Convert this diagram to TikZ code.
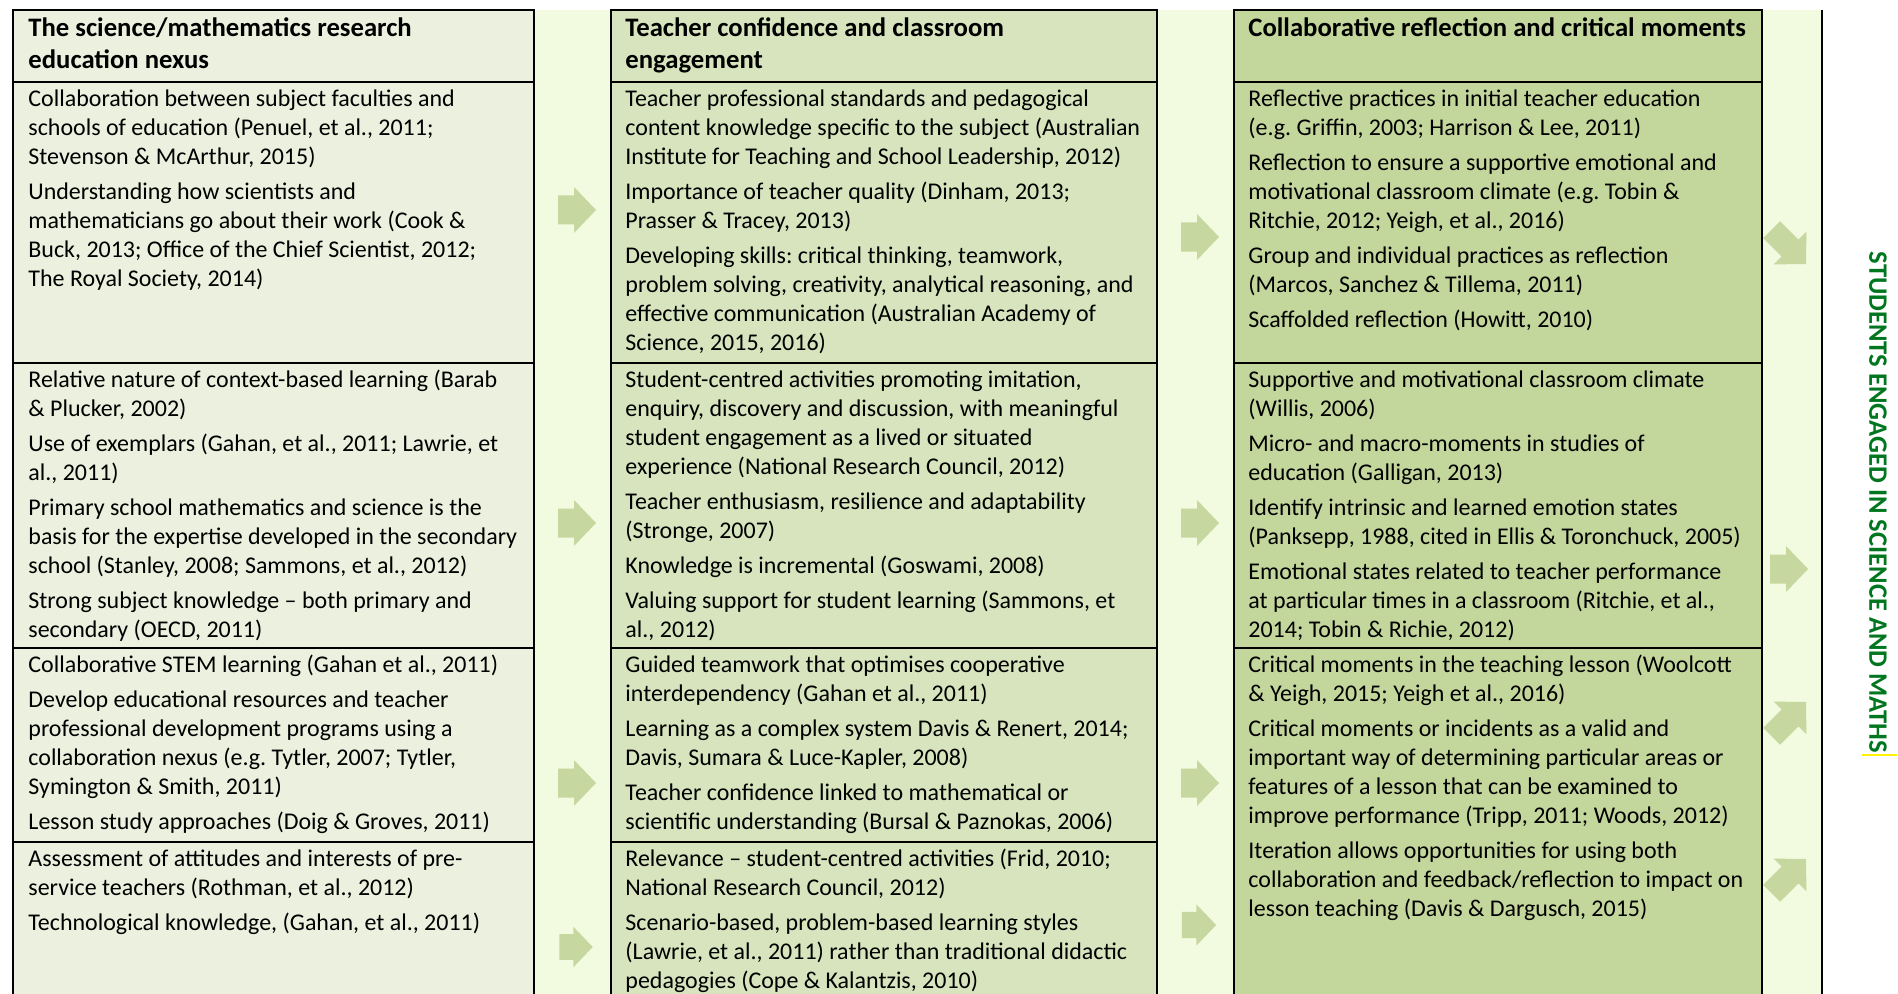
\documentclass[tikz,border=0pt]{standalone}
\usepackage{fontspec}
\setmainfont{Carlito}
\definecolor{nexusfill}{HTML}{EBF1DE}
\definecolor{teachfill}{HTML}{D7E4BD}
\definecolor{reflectfill}{HTML}{C3D69B}
\definecolor{stripfill}{HTML}{F2FADF}
\definecolor{arrowfill}{HTML}{C6D7A0}
\definecolor{engagegreen}{HTML}{00761E}
% block arrow pointing right
\newcommand*{\flowarrow}[2][1]{%
  \fill[arrowfill,shift={#2},scale=#1]
    (-19,-14.5) -- (-3,-14.5) -- (-3,-23) -- (19,0) -- (-3,23) -- (-3,14.5) -- (-19,14.5) -- cycle;}
% block arrow at 45 degrees: yscale 1 points up-right, -1 down-right
\newcommand*{\tiltarrow}[2]{%
  \fill[arrowfill,shift={#1},yscale=#2]
    (-26.7,9.9) -- (-8.4,-8.4) -- (-16.4,-16.4) -- (16,-16) -- (16.4,16.4) -- (8.4,8.4) -- (-9.9,26.7) -- cycle;}

\begin{document}
\frenchspacing
\begin{tikzpicture}[x=0.459pt,y=-0.459pt,
  cell/.style={draw=black,line width=0.9pt},
  head/.style={anchor=north west,inner xsep=0pt,inner ysep=1.85pt,align=left,
               font=\fontsize{12.25}{14.7}\selectfont\bfseries},
  body/.style={anchor=north west,inner xsep=0pt,inner ysep=1.8pt,align=left,
               font=\fontsize{11}{13.3}\selectfont}]
\clip (0,0) rectangle (1898,994);
% Light strip behind the three columns, closed by a line on the right
\fill[stripfill] (13,10) rectangle (1822,1010);
\draw[line width=0.9pt] (1822,10) -- (1822,1010);
% Columns with their row lines
\foreach \l/\r/\c in {13/534/nexusfill,611/1157/teachfill,1234/1762/reflectfill}{
  \fill[\c] (\l,10) rectangle (\r,1010);
  \draw[cell] (\l,1010) |- (\r,10) -- (\r,1010);
  \foreach \y in {82,363,648} \draw[cell] (\l,\y) -- (\r,\y);
}
\foreach \l/\r in {13/534,611/1157} \draw[cell] (\l,842) -- (\r,842);
%% First column
\node[head] (h1) at (28,10) {\strut The science/mathematics research\\education nexus};
\node[body] (n1) at (28,82) {\strut Collaboration between subject faculties and\\schools of education (Penuel, et al., 2011;\\Stevenson \& McArthur, 2015)\\[2.75pt]Understanding how scientists and\\mathematicians go about their work (Cook \&\\Buck, 2013; Office of the Chief Scientist, 2012;\\The Royal Society, 2014)};
\node[body] (n2) at (28,363) {\strut Relative nature of context-based learning (Barab\\\& Plucker, 2002)\\[2.75pt]Use of exemplars (Gahan, et al., 2011; Lawrie, et\\al., 2011)\\[2.75pt]Primary school mathematics and science is the\\basis for the expertise developed in the secondary\\school (Stanley, 2008; Sammons, et al., 2012)\\[2.75pt]Strong subject knowledge -- both primary and\\secondary (OECD, 2011)};
\node[body] (n3) at (28,648) {\strut Collaborative STEM learning (Gahan et al., 2011)\\[2.75pt]Develop educational resources and teacher\\professional development programs using a\\collaboration nexus (e.g. Tytler, 2007; Tytler,\\Symington \& Smith, 2011)\\[2.75pt]Lesson study approaches (Doig \& Groves, 2011)};
\node[body] (n4) at (28,842) {\strut Assessment of attitudes and interests of pre-\\service teachers (Rothman, et al., 2012)\\[2.75pt]Technological knowledge, (Gahan, et al., 2011)};
%% Second column
\node[head] (h2) at (625,10) {\strut Teacher confidence and classroom\\engagement};
\node[body] (t1) at (625,82) {\strut Teacher professional standards and pedagogical\\content knowledge specific to the subject (Australian\\Institute for Teaching and School Leadership, 2012)\\[2.75pt]Importance of teacher quality (Dinham, 2013;\\Prasser \& Tracey, 2013)\\[2.75pt]Developing skills: critical thinking, teamwork,\\problem solving, creativity, analytical reasoning, and\\effective communication (Australian Academy of\\Science, 2015, 2016)};
\node[body] (t2) at (625,363) {\strut Student-centred activities promoting imitation,\\enquiry, discovery and discussion, with meaningful\\student engagement as a lived or situated\\experience (National Research Council, 2012)\\[2.75pt]Teacher enthusiasm, resilience and adaptability\\(Stronge, 2007)\\[2.75pt]Knowledge is incremental (Goswami, 2008)\\[2.75pt]Valuing support for student learning (Sammons, et\\al., 2012)};
\node[body] (t3) at (625,648) {\strut Guided teamwork that optimises cooperative\\interdependency (Gahan et al., 2011)\\[2.75pt]Learning as a complex system Davis \& Renert, 2014;\\Davis, Sumara \& Luce-Kapler, 2008)\\[2.75pt]Teacher confidence linked to mathematical or\\scientific understanding (Bursal \& Paznokas, 2006)};
\node[body] (t4) at (625,842) {\strut Relevance -- student-centred activities (Frid, 2010;\\National Research Council, 2012)\\[2.75pt]Scenario-based, problem-based learning styles\\(Lawrie, et al., 2011) rather than traditional didactic\\pedagogies (Cope \& Kalantzis, 2010)};
%% Third column
\node[head] (h3) at (1248,10) {\strut Collaborative reflection and critical moments};
\node[body] (r1) at (1248,82) {\strut Reflective practices in initial teacher education\\(e.g. Griffin, 2003; Harrison \& Lee, 2011)\\[2.75pt]Reflection to ensure a supportive emotional and\\motivational classroom climate (e.g. Tobin \&\\Ritchie, 2012; Yeigh, et al., 2016)\\[2.75pt]Group and individual practices as reflection\\(Marcos, Sanchez \& Tillema, 2011)\\[2.75pt]Scaffolded reflection (Howitt, 2010)};
\node[body] (r2) at (1248,363) {\strut Supportive and motivational classroom climate\\(Willis, 2006)\\[2.75pt]Micro- and macro-moments in studies of\\education (Galligan, 2013)\\[2.75pt]Identify intrinsic and learned emotion states\\(Panksepp, 1988, cited in Ellis \& Toronchuck, 2005)\\[2.75pt]Emotional states related to teacher performance\\at particular times in a classroom (Ritchie, et al.,\\2014; Tobin \& Richie, 2012)};
\node[body] (r3) at (1248,648) {\strut Critical moments in the teaching lesson (Woolcott\\\& Yeigh, 2015; Yeigh et al., 2016)\\[2.75pt]Critical moments or incidents as a valid and\\important way of determining particular areas or\\features of a lesson that can be examined to\\improve performance (Tripp, 2011; Woods, 2012)\\[2.75pt]Iteration allows opportunities for using both\\collaboration and feedback/reflection to impact on\\lesson teaching (Davis \& Dargusch, 2015)};
%% Arrows in the gaps
\foreach \y in {210,523,783} \flowarrow{(577,\y)};
\flowarrow[0.88]{(576,947)};
\foreach \y in {237,523,783} \flowarrow{(1200,\y)};
\flowarrow[0.9]{(1199,925)};
\tiltarrow{(1790,248)}{-1};
\flowarrow{(1789,569)};
\tiltarrow{(1790,718)}{1};
\tiltarrow{(1790,875)}{1};
%% Outcome, read downwards
\node[rotate=-90,inner sep=0pt,text=engagegreen,font=\fontsize{12.2}{14}\selectfont\bfseries]
  (engaged) at (1878,502.5) {STUDENTS ENGAGED IN SCIENCE AND MATHS};
\draw[yellow,line width=0.5pt] (1862,755) -- (1897,755);
\end{tikzpicture}
\end{document}
